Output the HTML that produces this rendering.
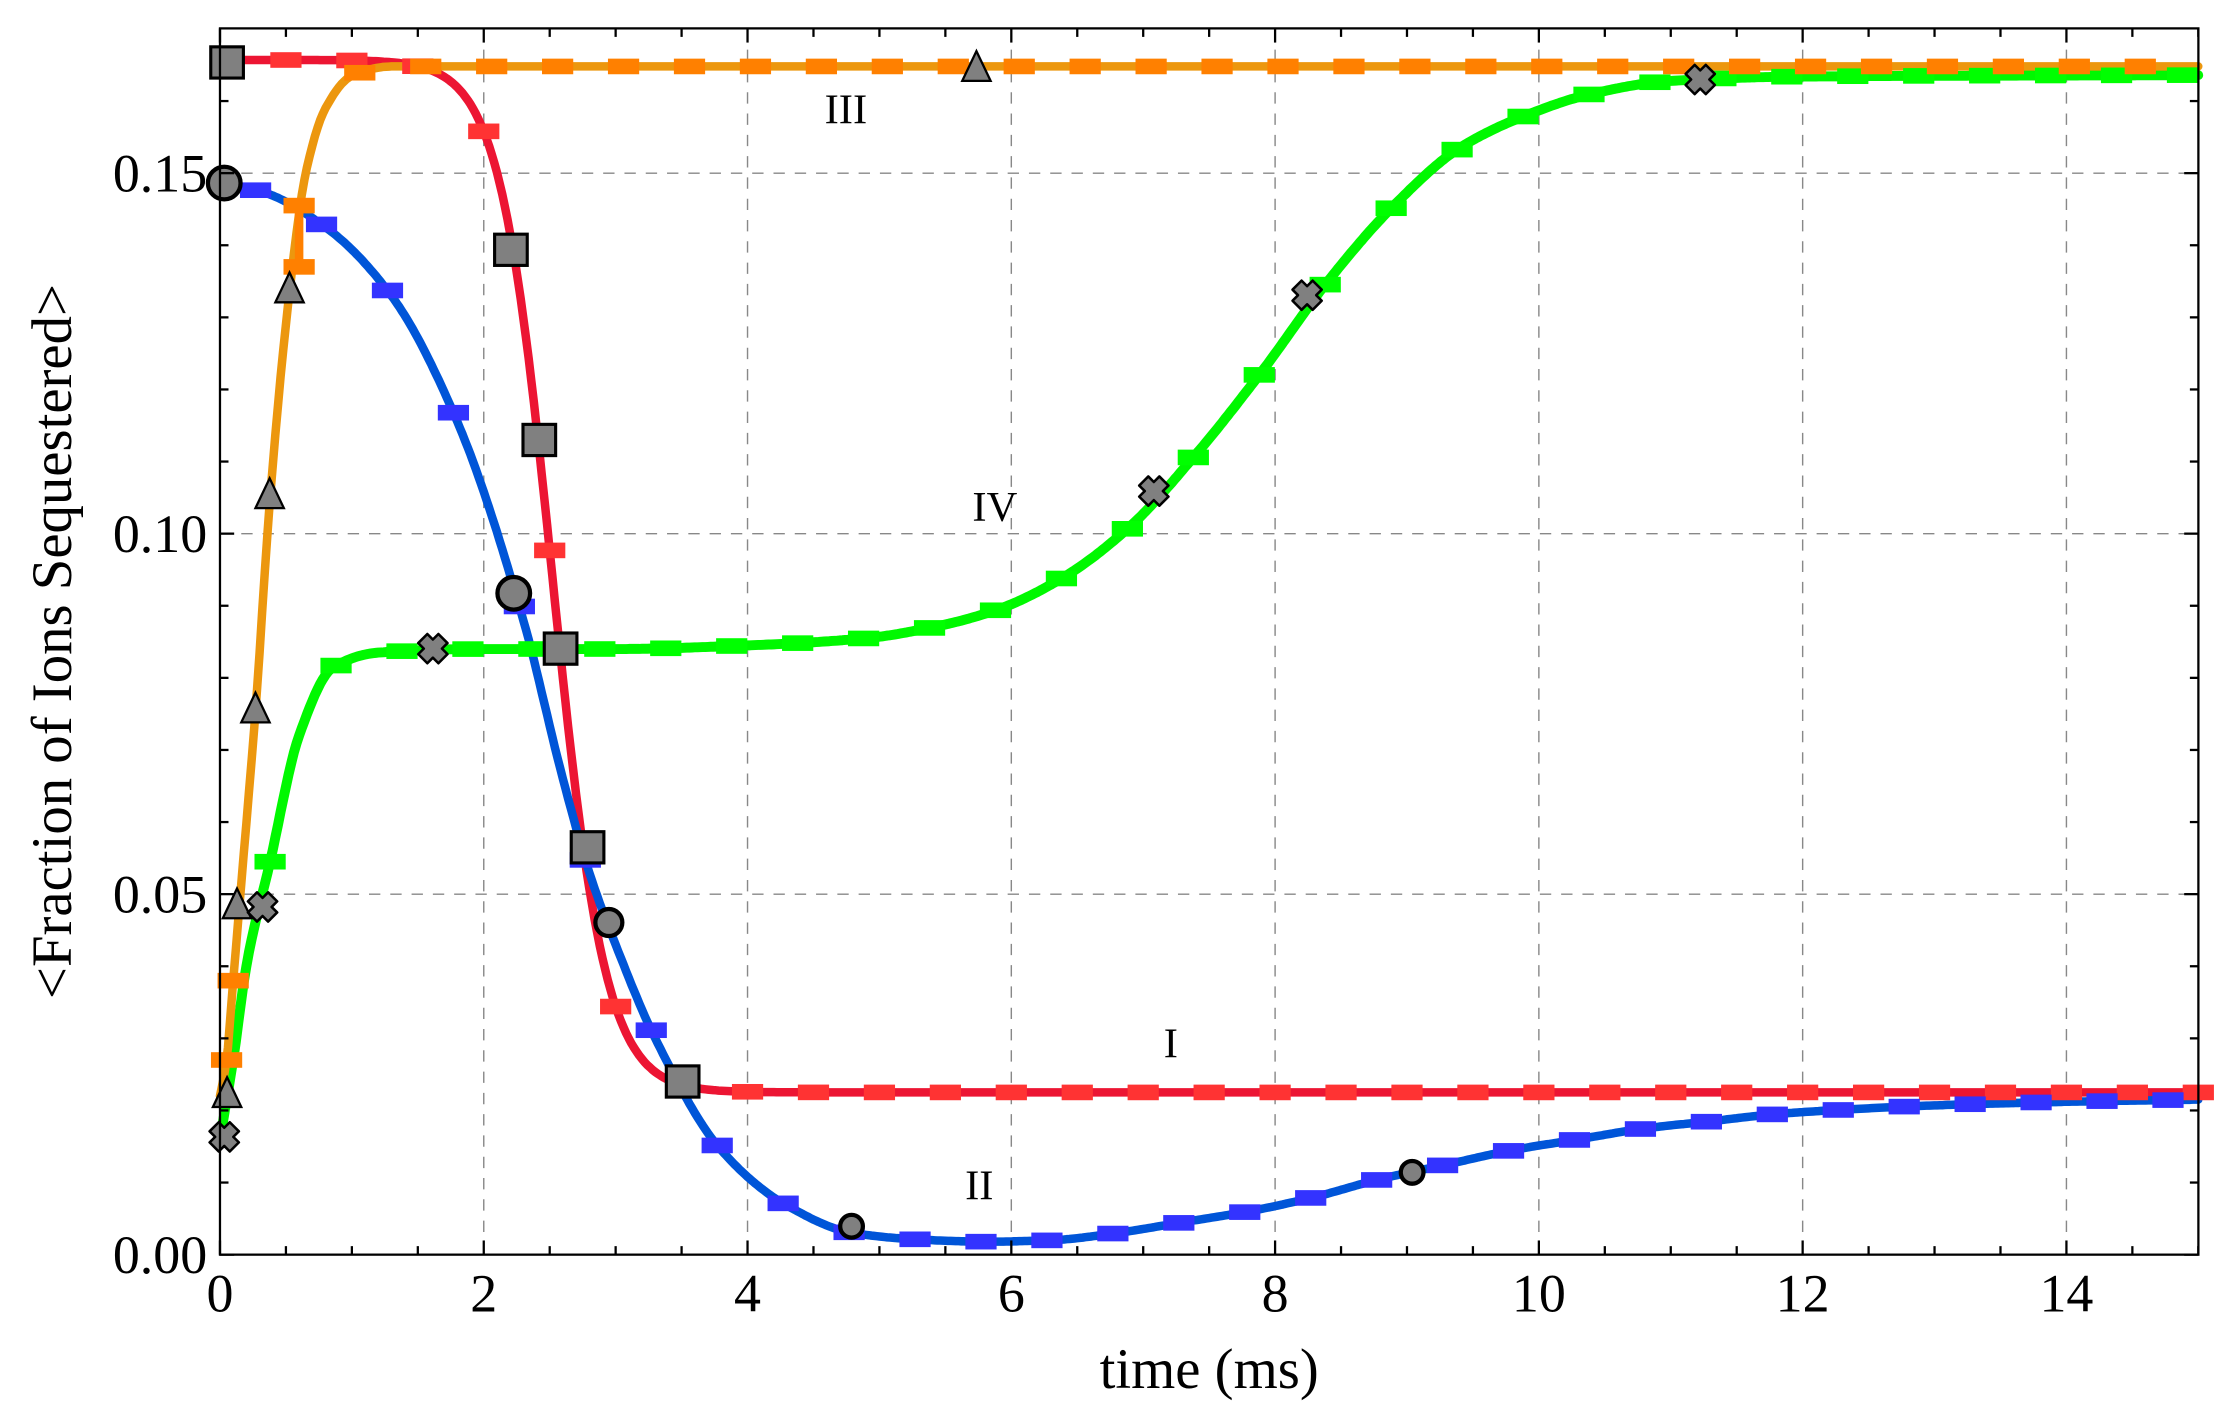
<!DOCTYPE html>
<html><head><meta charset="utf-8"><style>
html,body{margin:0;padding:0;background:#fff;}
svg{display:block;}
text{font-family:"Liberation Serif",serif;fill:#000;}
</style></head><body>
<svg id="s" width="2214" height="1420" viewBox="0 0 1560 1000.5" preserveAspectRatio="none" xmlns="http://www.w3.org/2000/svg">
<rect x="0" y="0" width="1560" height="1000.5" fill="#fff"/>
<g id="grid" stroke="#888" stroke-width="1" stroke-dasharray="8,7" fill="none"></g>
<g id="curves" fill="none" stroke-linejoin="round" stroke-linecap="round"></g>
<g id="marks"></g>
<g id="axes" stroke="#000" stroke-width="1.6" fill="none"></g>
<g id="labels"></g>
<text x="596" y="87" font-size="30" text-anchor="middle">III</text>
<text x="701" y="367" font-size="30" text-anchor="middle">IV</text>
<text x="825" y="745" font-size="30" text-anchor="middle">I</text>
<text x="690" y="845" font-size="30" text-anchor="middle">II</text>
<text x="852" y="978" font-size="40" text-anchor="middle">time (ms)</text>
<text transform="translate(50,452) rotate(-90)" font-size="40" text-anchor="middle">&lt;Fraction of Ions Sequestered&gt;</text>
</svg>
<script>
var NS="http://www.w3.org/2000/svg";
function X(t){return 155+t*92.93;}
function Y(v){return 884-v*5080;}
function el(p,tag,a,txt){var e=document.createElementNS(NS,tag);for(var k in a)e.setAttribute(k,a[k]);if(txt!==undefined)e.textContent=txt;document.getElementById(p).appendChild(e);return e;}
for(var t=2;t<=14;t+=2)el("grid","line",{x1:X(t),y1:20,x2:X(t),y2:884});
[0.05,0.10,0.15].forEach(function(v){el("grid","line",{x1:155,y1:Y(v),x2:1549,y2:Y(v)});});
function interp(P){
  var n=P.length,xs=P.map(p=>p[0]),ys=P.map(p=>p[1]),d=[],m=[];
  for(var i=0;i<n-1;i++)d.push((ys[i+1]-ys[i])/(xs[i+1]-xs[i]));
  m[0]=d[0];m[n-1]=d[n-2];
  for(var i=1;i<n-1;i++){if(d[i-1]*d[i]<=0)m[i]=0;else m[i]=3*(xs[i+1]-xs[i-1])/((2*xs[i+1]-xs[i]-xs[i-1])/d[i-1]+(xs[i+1]+xs[i]-2*xs[i-1])/d[i]);}
  return function(t){
    var i=0;while(i<n-2&&t>xs[i+1])i++;
    var h=xs[i+1]-xs[i],s=(t-xs[i])/h,s2=s*s,s3=s2*s;
    return (2*s3-3*s2+1)*ys[i]+(s3-2*s2+s)*h*m[i]+(-2*s3+3*s2)*ys[i+1]+(s3-s2)*h*m[i+1];
  };
}
var red=function(t){return 0.0225+0.1432/(1+Math.exp((t-2.52)/0.2));};
var blue=interp([[0,0.1485],[0.3,0.1475],[0.8,0.1425],[1.3,0.133],[1.8,0.1155],[2.3,0.088],[2.6,0.066],[2.8,0.053],[3.0,0.043],[3.3,0.030],[3.8,0.0145],[4.3,0.0068],[4.8,0.003],[5.3,0.0021],[5.8,0.0018],[6.3,0.002],[6.8,0.003],[7.3,0.0045],[7.8,0.006],[8.3,0.008],[8.8,0.0105],[9.3,0.0125],[9.8,0.0145],[10.3,0.016],[10.8,0.0175],[11.3,0.0185],[11.8,0.0195],[12.3,0.0201],[13,0.0207],[14,0.0212],[15,0.0215]]);
var green=interp([[0,0.016],[0.1,0.027],[0.2,0.04],[0.38,0.0545],[0.6,0.072],[0.86,0.0815],[1.2,0.0835],[2,0.084],[3,0.084],[4,0.0845],[4.9,0.0855],[5.4,0.087],[5.9,0.0895],[6.4,0.094],[6.9,0.101],[7.4,0.111],[7.9,0.1225],[8.4,0.135],[8.9,0.1455],[9.4,0.1535],[9.9,0.158],[10.4,0.161],[11,0.1628],[12,0.1634],[15,0.1636]]);
var orange=interp([[0,0.022],[0.05,0.027],[0.1,0.038],[0.15,0.049],[0.27,0.0756],[0.38,0.105],[0.53,0.134],[0.65,0.150],[0.8,0.159],[1.0,0.1635],[1.3,0.1648],[15,0.1648]]);
function path(f,col,w){var d="";for(var t=0;t<=15.0001;t+=0.02){d+=(d?"L":"M")+X(t).toFixed(1)+","+Y(f(t)).toFixed(1);}el("curves","path",{d:d,stroke:col,"stroke-width":w});}
path(red,"#ec1533",6);
path(blue,"#0055d8",6);
path(green,"#00f800",7);
path(orange,"#ec970e",6);
function rm(t,v,c){el("marks","rect",{x:X(t)-11,y:Y(v)-5.5,width:22,height:11,fill:c});}
var k;
for(k=0.5;k<=15.01;k+=0.5)rm(k,red(k),"#ff3333");
for(k=0.27;k<=15.01;k+=0.5)rm(k,blue(k),"#3333ff");
for(k=0.38;k<=15.01;k+=0.5)rm(k,green(k),"#00ff00");
el("marks","rect",{x:X(0.6)-3,y:145,width:6,height:42,fill:"#ff8000"});
rm(0.6,0.1455,"#ff8000");rm(0.6,0.137,"#ff8000");
rm(0.05,0.027,"#ff8000");rm(0.1,0.038,"#ff8000");
for(k=1.06;k<=15.01;k+=0.5)rm(k,orange(k),"#ff8000");
var G="#808080";
function sq(x,y){el("marks","rect",{x:x-11.5,y:y-11,width:23,height:22,fill:G,stroke:"#000","stroke-width":2.2});}
function ci(x,y,r){el("marks","circle",{cx:x,cy:y,r:r,fill:G,stroke:"#000","stroke-width":3});}
function tr(x,y){el("marks","polygon",{points:(x)+","+(y-13)+" "+(x+10)+","+(y+8)+" "+(x-10)+","+(y+8),fill:G,stroke:"#000","stroke-width":1.6});}
function cr(x,y){var a=4.5,b=10,p=[[-a,-b],[a,-b],[a,-a],[b,-a],[b,a],[a,a],[a,b],[-a,b],[-a,a],[-b,a],[-b,-a],[-a,-a]];
 var s=p.map(function(q){var c=Math.SQRT1_2;return (x+(q[0]-q[1])*c).toFixed(1)+","+(y+(q[0]+q[1])*c).toFixed(1);}).join(" ");
 el("marks","polygon",{points:s,fill:G,stroke:"#000","stroke-width":1.8,"stroke-linejoin":"round"});}
sq(160,44);sq(360,176);sq(380,310);sq(395,457);sq(414,597);sq(481,762);
ci(158,129,11.5);ci(362,418,11.5);ci(429,650,9.5);ci(600,864,8);ci(995,826,8);
tr(160,772);tr(167,639);tr(180,501);tr(190,350);tr(204,205);tr(688,49);
cr(158,801);cr(185,639);cr(305,457);cr(813,346);cr(921,208);cr(1198,56);
el("axes","rect",{x:155,y:20,width:1394,height:864});
for(var i=0;i<=30;i++){var x=X(i*0.5),L=(i%4==0)?10:6;
 el("axes","line",{x1:x,y1:884,x2:x,y2:884-L});el("axes","line",{x1:x,y1:20,x2:x,y2:20+L});}
for(var i=0;i<=16;i++){var y=Y(i*0.01),L=(i%5==0)?10:6;
 el("axes","line",{x1:155,y1:y,x2:155+L,y2:y});el("axes","line",{x1:1549,y1:y,x2:1549-L,y2:y});}
for(var t=0;t<=14;t+=2)el("labels","text",{x:X(t),y:924,"font-size":38,"text-anchor":"middle"},String(t));
["0.00","0.05","0.10","0.15"].forEach(function(s,i){el("labels","text",{x:146,y:Y(i*0.05)+13,"font-size":38,"text-anchor":"end"},s);});
</script>
</body></html>
